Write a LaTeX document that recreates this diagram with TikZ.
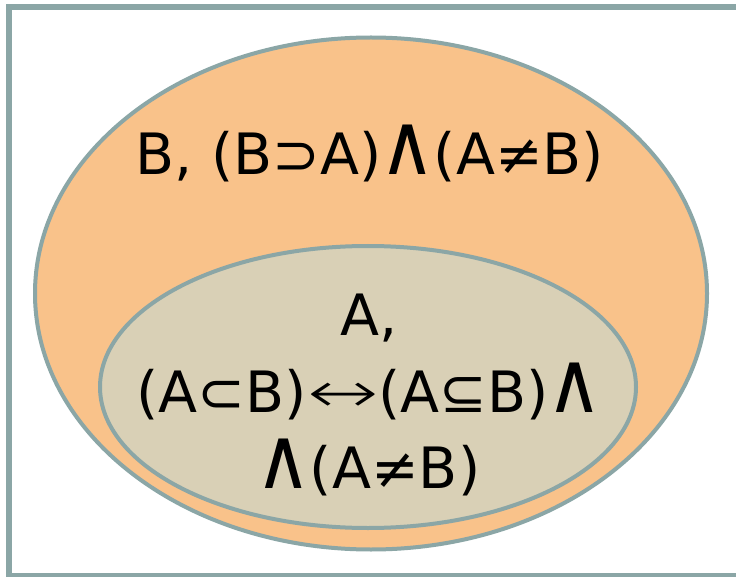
\documentclass[tikz,border=0pt]{standalone}
\usepackage{fontspec}
\setmainfont{DejaVu Sans}
\newfontfamily\thinf{DejaVu Sans ExtraLight}
\usetikzlibrary{shapes.geometric}
\definecolor{edgec}{HTML}{8BA6A6}
\definecolor{outerfill}{HTML}{F9C28A}
\definecolor{innerfill}{HTML}{D9D0B6}
\newcommand{\bigwedgeg}{\kern-2pt\scalebox{1.35}[1.5]{∧}\kern-2pt}
\newcommand{\longiff}{\scalebox{1.5}[1]{\thinf ↔}}
\tikzset{
  setshape/.style={ellipse, draw=edgec, line width=4pt, inner sep=0pt},
  lbl/.style={anchor=base, inner sep=0pt, font=\fontsize{57}{70}\selectfont}
}
\begin{document}
\begin{tikzpicture}[x=1pt,y=-1pt]
\useasboundingbox (0,0) rectangle (736,577);
\clip (0,0) rectangle (736,577);
\fill[white] (0,0) rectangle (736,577);
\draw[edgec, line width=6pt] (9,7) rectangle (760,575.5);
\node[setshape, fill=outerfill, minimum width=672pt, minimum height=512pt] (B) at (371,293.5) {};
\node[setshape, fill=innerfill, minimum width=536pt, minimum height=282pt] (A) at (368,387) {};
\node[lbl] (bt) at (370,175) {B, (B⊃A)\bigwedgeg(A≠B)};
\node[lbl] (a1) at (369,335) {A,};
\node[lbl] (a2) at (369,412) {(A⊂B)\longiff(A⊆B)\bigwedgeg};
\node[lbl] (a3) at (369,488) {\bigwedgeg(A≠B)};
\end{tikzpicture}
\end{document}
